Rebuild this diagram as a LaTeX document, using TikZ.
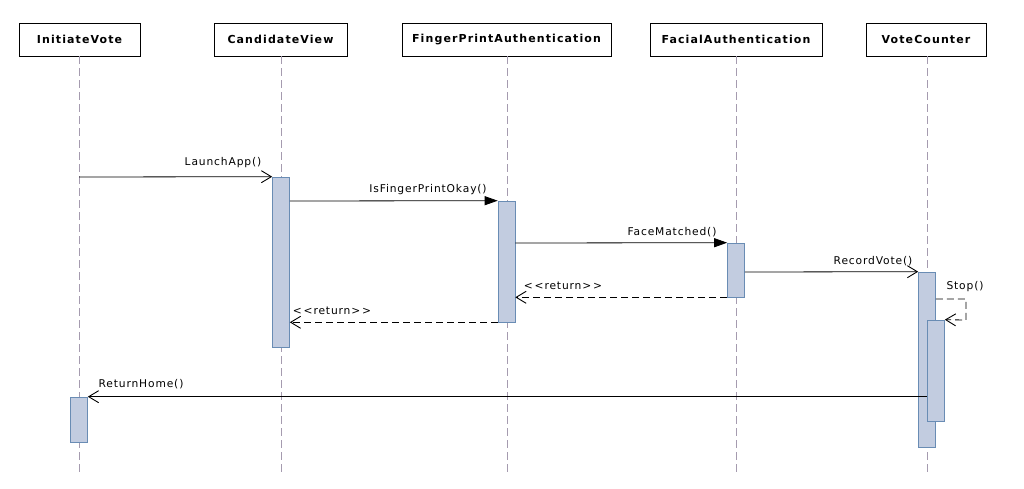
\documentclass[tikz,border=0pt]{standalone}
\usepackage{fontspec}
\setmainfont{DejaVu Sans}
\newfontfamily\lblfont[LetterSpace=8]{DejaVu Sans}
\newfontfamily\hdrfont[LetterSpace=10]{DejaVu Sans}
\usetikzlibrary{arrows.meta}
\definecolor{lifecol}{RGB}{165,155,175}
\definecolor{actfill}{RGB}{194,204,224}
\definecolor{actdraw}{RGB}{105,140,180}
\tikzset{
  header/.style={draw=black, line width=0.8pt, minimum height=33pt, inner sep=0pt, font=\hdrfont\fontsize{11}{13}\selectfont\bfseries},
  lifeline/.style={draw=lifecol, line width=0.9pt, dash pattern=on 8pt off 4pt},
  actbox/.style={draw=actdraw, fill=actfill, line width=0.6pt, minimum width=17pt, inner sep=0pt},
  lbl/.style={font=\lblfont\fontsize{10.7}{12}\selectfont, inner sep=0pt},
  callmsg/.style={draw=black, line width=0.8pt, -{Triangle[length=13pt,width=9pt]}},
  openmsg/.style={draw=black, line width=0.8pt, -{Straight Barb[length=10pt,width=12pt,line width=0.9pt]}},
  retmsg/.style={draw=black, line width=0.8pt, dash pattern=on 7pt off 4pt, -{Straight Barb[length=10pt,width=12pt,line width=0.9pt]}},
}
\begin{document}
\begin{tikzpicture}[x=1pt,y=-1pt]
\useasboundingbox (0,0) rectangle (1024,489);
% headers
\node[header, minimum width=121pt] (h1) at (79.5,39.5) {InitiateVote};
\node[header, minimum width=133pt] (h2) at (280.5,39.5) {CandidateView};
\node[header, minimum width=209pt] (h3) at (506.5,39.5) {FingerPrintAuthentication};
\node[header, minimum width=172pt] (h4) at (736,39.5) {FacialAuthentication};
\node[header, minimum width=120pt] (h5) at (926,39.5) {VoteCounter};
% lifeline ends
\coordinate (b1) at (79,472);
\coordinate (b2) at (281,472);
\coordinate (b3) at (507,472);
\coordinate (b4) at (736,472);
\coordinate (b5) at (927,472);
\draw[lifeline] (h1.south -| b1) -- (b1);
\draw[lifeline] (h2.south -| b2) -- (b2);
\draw[lifeline] (h3.south -| b3) -- (b3);
\draw[lifeline] (h4.south -| b4) -- (b4);
\draw[lifeline] (h5.south -| b5) -- (b5);
% activations
\node[actbox, minimum height=170pt] (a1) at (281,262) {};
\node[actbox, minimum height=121pt] (a2) at (506.5,261.5) {};
\node[actbox, minimum height=54pt] (a3) at (736,270) {};
\node[actbox, minimum height=175pt] (a4) at (927,359.5) {};
\node[actbox, minimum height=101pt] (a5) at (936,370.5) {};
\node[actbox, minimum height=45pt] (a6) at (79,419.5) {};
% messages
\coordinate (s1) at (79,177);
\draw[openmsg] (s1) -- (a1.north west);
\node[lbl] (t1) at (223,163) {LaunchApp()};
\draw[callmsg] (a1.east |- 0,201) -- (a2.north west);
\node[lbl] (t2) at (428,190) {IsFingerPrintOkay()};
\draw[callmsg] (a2.east |- 0,243) -- (a3.north west);
\node[lbl] (t3) at (672,232) {FaceMatched()};
\draw[openmsg] (a3.east |- 0,272) -- (a4.north west);
\node[lbl] (t4) at (873,261) {RecordVote()};
\coordinate (c1) at (966,299);
\coordinate (c2) at (966,320);
\draw[retmsg] (a4.east |- c1) -- (c1) -- (c2) -- (a5.north east);
\node[lbl] (t5) at (965,287) {Stop()};
\draw[retmsg] (a3.south west) -- (a2.east |- a3.south west);
\node[lbl] (t6) at (563,286) {<\,<return>\,>};
\draw[retmsg] (a2.south west) -- (a1.east |- a2.south west);
\node[lbl] (t7) at (332,311) {<\,<return>\,>};
\draw[openmsg] (a5.west |- a6.north) -- (a6.north east);
\node[lbl] (t8) at (141,384) {ReturnHome()};
\end{tikzpicture}
\end{document}
